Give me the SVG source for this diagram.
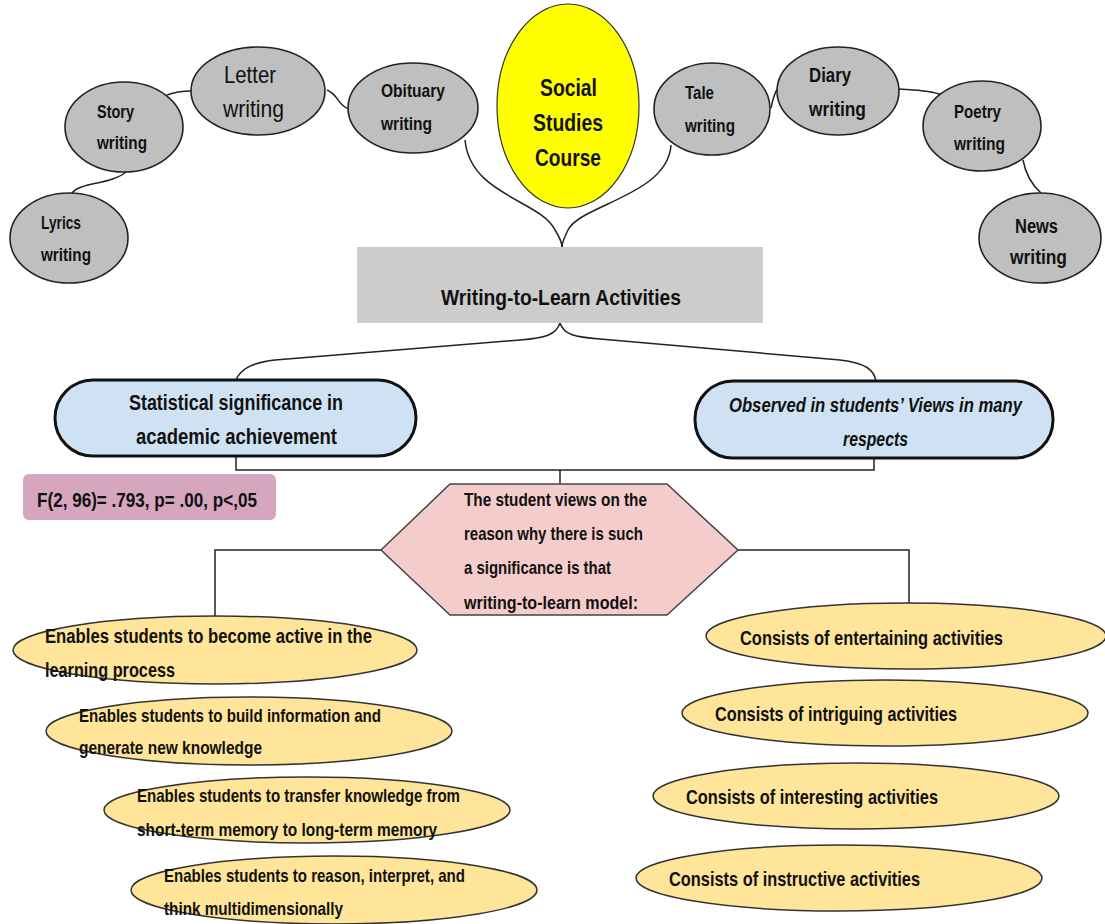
<svg xmlns="http://www.w3.org/2000/svg" width="1105" height="924" viewBox="0 0 1105 924">
<style>
text{font-family:"Liberation Sans",Arial,sans-serif;font-weight:bold;fill:#111;}
.g{fill:#BFBFBF;stroke:#222;stroke-width:1.6;}
.y{fill:#FFFF00;stroke:#333;stroke-width:1.2;}
.b{fill:#CFE2F3;stroke:#111;stroke-width:3;}
.ye{fill:#FFE599;stroke:#333;stroke-width:1.5;}
.c{fill:none;stroke:#222;stroke-width:1.5;}
.t17{font-size:18.5px;}
.t19{font-size:20.5px;}
.t21{font-size:22px;}
</style>
<rect width="1105" height="924" fill="#fff"/>
<g id="connectors">
<path class="c" d="M72,193 C80,182 110,185 126,172"/>
<path class="c" d="M167,95 C175,92 182,91 191,91"/>
<path class="c" d="M327,90 C338,94 338,106 349,109"/>
<path class="c" d="M465,140 C470,195 540,200 555,230 C560,238 562,242 562,247"/>
<path class="c" d="M671,145 C668,195 580,205 568,230 C564,238 562,242 562,247"/>
<path class="c" d="M771,108 C773,98 775,92 778,88"/>
<path class="c" d="M899,89 C915,90 930,90 942,95"/>
<path class="c" d="M1023,160 C1026,176 1032,185 1041,193"/>
<path class="c" d="M560,323 C556,335 545,338 520,340 L275,360 C250,363 240,370 236,380"/>
<path class="c" d="M560,323 C564,335 575,337 600,339 L840,360 C866,363 874,370 876,381"/>
<path class="c" d="M236,456 L236,470 L874,470 L874,458"/>
<path class="c" d="M560,470 L560,484"/>
<path class="c" d="M381,550 L215,550 L215,617"/>
<path class="c" d="M738,550 L909,550 L909,603"/>
</g>
<g id="lyrics"><ellipse class="g" cx="69" cy="238" rx="59" ry="45"/><text class="t17" x="41" y="229" textLength="40" lengthAdjust="spacingAndGlyphs">Lyrics</text><text class="t17" x="41" y="261" textLength="50" lengthAdjust="spacingAndGlyphs">writing</text></g>
<g id="story"><ellipse class="g" cx="124" cy="127" rx="59" ry="45"/><text class="t17" x="97" y="118" textLength="37" lengthAdjust="spacingAndGlyphs">Story</text><text class="t17" x="97" y="149" textLength="50" lengthAdjust="spacingAndGlyphs">writing</text></g>
<g id="letter"><ellipse class="g" cx="258" cy="91" rx="67" ry="44"/><text x="224" y="83" style="font-weight:normal;font-size:24px" textLength="52" lengthAdjust="spacingAndGlyphs">Letter</text><text x="223" y="117" style="font-weight:normal;font-size:24px" textLength="61" lengthAdjust="spacingAndGlyphs">writing</text></g>
<g id="obituary"><ellipse class="g" cx="413" cy="108" rx="65" ry="45"/><text class="t17" x="381" y="97" textLength="64" lengthAdjust="spacingAndGlyphs">Obituary</text><text class="t17" x="381" y="130" textLength="51" lengthAdjust="spacingAndGlyphs">writing</text></g>
<g id="social"><ellipse class="y" cx="568" cy="106" rx="71" ry="102"/><text x="540" y="96" style="font-size:24px" textLength="57" lengthAdjust="spacingAndGlyphs">Social</text><text x="533" y="131" style="font-size:24px" textLength="70" lengthAdjust="spacingAndGlyphs">Studies</text><text x="535" y="166" style="font-size:24px" textLength="66" lengthAdjust="spacingAndGlyphs">Course</text></g>
<g id="tale"><ellipse class="g" cx="712" cy="109" rx="58" ry="46"/><text class="t17" x="685" y="99" textLength="29" lengthAdjust="spacingAndGlyphs">Tale</text><text class="t17" x="685" y="132" textLength="50" lengthAdjust="spacingAndGlyphs">writing</text></g>
<g id="diary"><ellipse class="g" cx="838" cy="91" rx="61" ry="44"/><text class="t19" x="809" y="82" textLength="42" lengthAdjust="spacingAndGlyphs">Diary</text><text class="t19" x="809" y="116" textLength="57" lengthAdjust="spacingAndGlyphs">writing</text></g>
<g id="poetry"><ellipse class="g" cx="982" cy="126" rx="59" ry="45"/><text class="t17" x="954" y="118" textLength="47" lengthAdjust="spacingAndGlyphs">Poetry</text><text class="t17" x="954" y="150" textLength="51" lengthAdjust="spacingAndGlyphs">writing</text></g>
<g id="news"><ellipse class="g" cx="1040" cy="238" rx="61" ry="45"/><text class="t19" x="1015" y="233" textLength="43" lengthAdjust="spacingAndGlyphs">News</text><text class="t19" x="1010" y="264" textLength="57" lengthAdjust="spacingAndGlyphs">writing</text></g>
<g id="wtl"><rect x="357" y="247" width="406" height="76" fill="#CCCCCC"/><text x="441" y="305" style="font-size:21.5px" textLength="240" lengthAdjust="spacingAndGlyphs">Writing-to-Learn Activities</text></g>
<g id="stat"><rect class="b" x="55" y="380" width="361" height="76" rx="38"/><text class="t21" x="129" y="410" textLength="214" lengthAdjust="spacingAndGlyphs">Statistical significance in</text><text class="t21" x="136" y="444" textLength="201" lengthAdjust="spacingAndGlyphs">academic achievement</text></g>
<g id="observed"><rect class="b" x="695" y="381" width="358" height="77" rx="38"/><text class="t19" x="729" y="412" style="font-style:italic" textLength="293" lengthAdjust="spacingAndGlyphs">Observed in students’ Views in many</text><text class="t19" x="843" y="446" style="font-style:italic" textLength="65" lengthAdjust="spacingAndGlyphs">respects</text></g>
<g id="fstat"><rect x="23" y="474" width="253" height="46" rx="6" fill="#D5A6BD"/><text class="t19" x="37" y="507" textLength="220" lengthAdjust="spacingAndGlyphs">F(2, 96)= .793, p= .00, p&lt;,05</text></g>
<g id="views"><polygon points="381,550 450,484 667,484 738,550 667,615 450,615" fill="#F4CCCC" stroke="#444" stroke-width="1.5"/>
<text class="t17" x="464" y="506" textLength="183" lengthAdjust="spacingAndGlyphs">The student views on the</text>
<text class="t17" x="464" y="540" textLength="179" lengthAdjust="spacingAndGlyphs">reason why there is such</text>
<text class="t17" x="464" y="574" textLength="147" lengthAdjust="spacingAndGlyphs">a significance is that</text>
<text class="t17" x="464" y="609" textLength="174" lengthAdjust="spacingAndGlyphs">writing-to-learn model:</text></g>
<g id="l1"><ellipse class="ye" cx="215" cy="650" rx="202" ry="34"/><text class="t19" x="45" y="643" textLength="327" lengthAdjust="spacingAndGlyphs">Enables students to become active in the</text><text class="t19" x="45" y="677" textLength="130" lengthAdjust="spacingAndGlyphs">learning process</text></g>
<g id="l2"><ellipse class="ye" cx="249" cy="731" rx="203" ry="34"/><text class="t17" x="79" y="722" textLength="302" lengthAdjust="spacingAndGlyphs">Enables students to build information and</text><text class="t17" x="79" y="754" textLength="183" lengthAdjust="spacingAndGlyphs">generate new knowledge</text></g>
<g id="l3"><ellipse class="ye" cx="307" cy="810" rx="203" ry="33"/><text class="t17" x="137" y="802" textLength="323" lengthAdjust="spacingAndGlyphs">Enables students to transfer knowledge from</text><text class="t17" x="137" y="836" textLength="300" lengthAdjust="spacingAndGlyphs">short-term memory to long-term memory</text></g>
<g id="l4"><ellipse class="ye" cx="334" cy="890" rx="203" ry="34"/><text class="t17" x="164" y="882" textLength="301" lengthAdjust="spacingAndGlyphs">Enables students to reason, interpret, and</text><text class="t17" x="164" y="915" textLength="179" lengthAdjust="spacingAndGlyphs">think multidimensionally</text></g>
<g id="r1"><ellipse class="ye" cx="906" cy="636" rx="200" ry="33"/><text class="t19" x="740" y="645" textLength="263" lengthAdjust="spacingAndGlyphs">Consists of entertaining activities</text></g>
<g id="r2"><ellipse class="ye" cx="885" cy="713" rx="203" ry="33"/><text class="t19" x="715" y="721" textLength="242" lengthAdjust="spacingAndGlyphs">Consists of intriguing activities</text></g>
<g id="r3"><ellipse class="ye" cx="856" cy="796" rx="203" ry="33"/><text class="t19" x="686" y="804" textLength="252" lengthAdjust="spacingAndGlyphs">Consists of interesting activities</text></g>
<g id="r4"><ellipse class="ye" cx="839" cy="878" rx="203" ry="33"/><text class="t19" x="669" y="886" textLength="251" lengthAdjust="spacingAndGlyphs">Consists of instructive activities</text></g>
</svg>
